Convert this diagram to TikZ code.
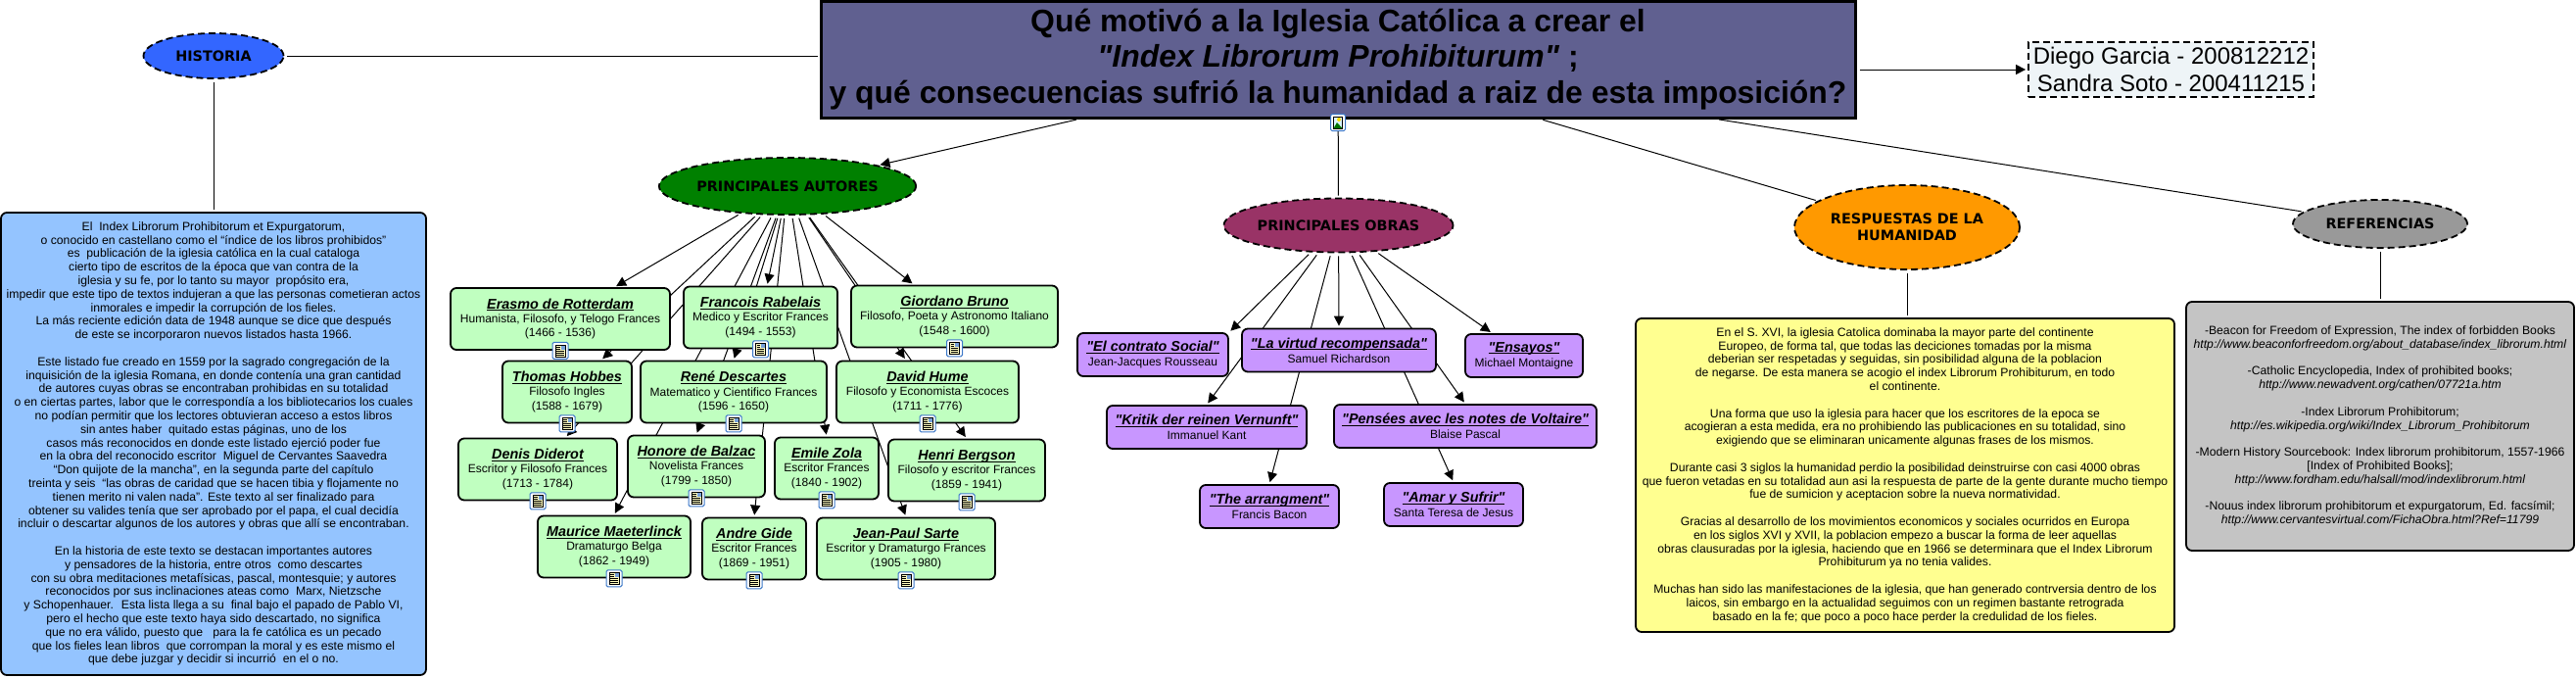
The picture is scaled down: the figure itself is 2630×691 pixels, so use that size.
\documentclass[tikz,border=0pt]{standalone}
\usepackage{fontspec}
\newfontfamily\arialfont{Liberation Sans}
\newfontfamily\temafont{DejaVu Sans}
\usetikzlibrary{arrows.meta, shapes.geometric, backgrounds, calc}
\definecolor{titlefill}{HTML}{606090}
\definecolor{histfill}{HTML}{94C4FF}
\definecolor{autorfill}{HTML}{C0FFC0}
\definecolor{obrafill}{HTML}{C896FF}
\definecolor{respfill}{HTML}{FFFF90}
\definecolor{reffill}{HTML}{C4C4C4}
\definecolor{namefill}{HTML}{EEF4F7}
\definecolor{iconblue}{HTML}{3C78C8}
\definecolor{temahist}{HTML}{3366FF}
\definecolor{temaaut}{HTML}{008000}
\definecolor{temaobra}{HTML}{993366}
\definecolor{temaresp}{HTML}{FF9900}
\definecolor{temaref}{HTML}{999999}
\newlength{\subrw}
\newcommand{\subr}[1]{\settowidth{\subrw}{#1}\rlap{\rule[-2.2pt]{\subrw}{1.1pt}}#1}
\newcommand{\docicon}[1]{%
  \node[iconbox] (#1ic) at (#1.south) {};
  \begin{scope}[shift={(#1ic.center)}]
    \draw[fill=yellow!25, line width=0.6pt] (-5,-6) rectangle (5,6);
    \fill[iconblue!70] (0.5,-5) rectangle (4.5,-1);
    \foreach \yy in {-4,-2,0,2,4} \draw[line width=0.7pt] (-3.8,\yy) -- (\ifnum\yy<0 -0.5\else 3.8\fi,\yy);
  \end{scope}}
\newcommand{\autor}[7]{%
  \node[autorbox, minimum width=#4pt] (#1) at (#2,#3) {{\titfont\subr{#5}}\\#6\\(#7)};
  \docicon{#1}}
\newcommand{\obra}[6]{%
  \node[obrabox, minimum width=#4pt] (#1) at (#2,#3) {{\titfont\subr{#5}}\\#6};}
\newcommand{\titfont}{\fontsize{14.4}{15}\selectfont\bfseries\itshape}
\begin{document}
\arialfont
\begin{tikzpicture}[
  x=1pt, y=-1pt, >={Stealth[inset=0pt,length=10pt,width=10pt]},
  rbox/.style={draw, line width=1.8pt, rounded corners=6pt, align=center, inner sep=0pt},
  autorbox/.style={rbox, fill=autorfill, minimum height=63pt, font=\fontsize{12}{14.4}\selectfont},
  obrabox/.style={rbox, fill=obrafill, minimum height=44pt, font=\fontsize{12}{15}\selectfont},
  textbox/.style={rbox, font=\fontsize{12.2}{13.8}\selectfont},
  tema/.style={ellipse, draw, dashed, dash pattern=on 7pt off 4pt, line width=1.8pt, inner sep=0pt, align=center,
    font=\temafont\bfseries\fontsize{14.4}{17.5}\selectfont},
  iconbox/.style={draw=iconblue, fill=white, line width=1pt, rounded corners=1.5pt, minimum width=16pt, minimum height=17pt, inner sep=0pt},
  conn/.style={line width=1pt, shorten <=3pt, shorten >=2pt},
  connar/.style={conn, ->}
  ]
  \useasboundingbox (0,0) rectangle (2630,691);
  % pregunta central
  \node[draw, line width=3pt, fill=titlefill, minimum width=1056pt, minimum height=119pt, inner sep=0pt, align=center,
    font=\fontsize{31.9}{36.5}\selectfont\bfseries] (title) at (1366,60.5)
    {Qué motivó a la Iglesia Católica a crear el\\ \textit{"Index Librorum Prohibiturum"} ;\\ y qué consecuencias sufrió la humanidad a raiz de esta imposición?};
  \node[iconbox, minimum width=15pt] (titleic) at ($(title.south)+(0,3.5)$) {};
  \begin{scope}[shift={(titleic.center)}]
    \draw[fill=cyan!15, line width=0.5pt] (-4.5,-6) rectangle (4.5,6);
    \fill[yellow!80!orange] (1,-3) circle (2pt);
    \fill[green!45!black] (-4.5,6) -- (-1,0) -- (4.5,6) -- cycle;
  \end{scope}
  \node[draw, dashed, dash pattern=on 7pt off 4pt, line width=1.8pt, fill=namefill, minimum width=291pt, minimum height=56pt, inner sep=0pt, align=center,
    font=\fontsize{24}{28}\selectfont] (names) at (2216.5,71) {Diego Garcia - 200812212\\Sandra Soto - 200411215};
  % temas
  \node[tema, fill=temahist, minimum width=143pt, minimum height=46pt] (historia) at (218,57) {HISTORIA};
  \node[tema, fill=temaaut, minimum width=246pt, minimum height=58pt] (autores) at (804,190) {PRINCIPALES AUTORES};
  \node[tema, fill=temaobra, minimum width=221pt, minimum height=55pt] (obras) at (1366.5,230) {PRINCIPALES OBRAS};
  \node[tema, fill=temaresp, minimum width=230pt, minimum height=86pt] (resp) at (1947,232) {RESPUESTAS DE LA\\HUMANIDAD};
  \node[tema, fill=temaref, minimum width=178pt, minimum height=49pt] (ref) at (2430,228.5) {REFERENCIAS};
  % historia
  \node[textbox, fill=histfill, minimum width=434pt, minimum height=472pt] (histtext) at (218,453) {%
    El~ Index Librorum Prohibitorum et Expurgatorum,\\
    o conocido en castellano como el “índice de los libros prohibidos”\\
    es~ publicación de la iglesia católica en la cual cataloga\\
    cierto tipo de escritos de la época que van contra de la\\
    iglesia y su fe, por lo tanto su mayor~ propósito era,\\
    impedir que este tipo de textos indujeran a que las personas cometieran actos\\
    inmorales e impedir la corrupción de los fieles.\\
    La más reciente edición data de 1948 aunque se dice que después\\
    de este se incorporaron nuevos listados hasta 1966.\\ \mbox{}\\
    Este listado fue creado en 1559 por la sagrado congregación de la\\
    inquisición de la iglesia Romana, en donde contenía una gran cantidad\\
    de autores cuyas obras se encontraban prohibidas en su totalidad\\
    o en ciertas partes, labor que le correspondía a los bibliotecarios los cuales\\
    no podían permitir que los lectores obtuvieran acceso a estos libros\\
    sin antes haber~ quitado estas páginas, uno de los\\
    casos más reconocidos en donde este listado ejerció poder fue\\
    en la obra del reconocido escritor~ Miguel de Cervantes Saavedra\\
    “Don quijote de la mancha”, en la segunda parte del capítulo\\
    treinta y seis~ “las obras de caridad que se hacen tibia y flojamente no\\
    tienen merito ni valen nada”. Este texto al ser finalizado para\\
    obtener su valides tenía que ser aprobado por el papa, el cual decidía\\
    incluir o descartar algunos de los autores y obras que allí se encontraban.\\ \mbox{}\\
    En la historia de este texto se destacan importantes autores\\
    y pensadores de la historia, entre otros~ como descartes\\
    con su obra meditaciones metafísicas, pascal, montesquie; y autores\\
    reconocidos por sus inclinaciones ateas como~ Marx, Nietzsche\\
    y Schopenhauer.~ Esta lista llega a su~ final bajo el papado de Pablo VI,\\
    pero el hecho que este texto haya sido descartado, no significa\\
    que no era válido, puesto que~~ para la fe católica es un pecado\\
    que los fieles lean libros~ que corrompan la moral y es este mismo el\\
    que debe juzgar y decidir si incurrió~ en el o no.};
  % autores
  \autor{erasmo}{572}{325.5}{224}{Erasmo de Rotterdam}{Humanista, Filosofo, y Telogo Frances}{1466 - 1536}
  \autor{rabelais}{776.5}{324}{157}{Francois Rabelais}{Medico y Escritor Frances}{1494 - 1553}
  \autor{bruno}{974.5}{323}{211}{Giordano Bruno}{Filosofo, Poeta y Astronomo Italiano}{1548 - 1600}
  \autor{hobbes}{579}{400}{132}{Thomas Hobbes}{Filosofo Ingles}{1588 - 1679}
  \autor{descartes}{749}{400}{190}{René Descartes}{Matematico y Cientifico Frances}{1596 - 1650}
  \autor{hume}{947}{400}{186}{David Hume}{Filosofo y Economista Escoces}{1711 - 1776}
  \autor{diderot}{549}{479}{162}{Denis Diderot}{Escritor y Filosofo Frances}{1713 - 1784}
  \autor{balzac}{711}{476}{140}{Honore de Balzac}{Novelista Frances}{1799 - 1850}
  \autor{zola}{844}{478}{106}{Emile Zola}{Escritor Frances}{1840 - 1902}
  \autor{bergson}{987}{480}{160}{Henri Bergson}{Filosofo y escritor Frances}{1859 - 1941}
  \autor{maeterlinck}{627}{558}{156}{Maurice Maeterlinck}{Dramaturgo Belga}{1862 - 1949}
  \autor{gide}{770}{560}{106}{Andre Gide}{Escritor Frances}{1869 - 1951}
  \autor{sarte}{925}{560}{182}{Jean-Paul Sarte}{Escritor y Dramaturgo Frances}{1905 - 1980}
  % obras
  \obra{contrato}{1177}{362}{154}{"El contrato Social"}{Jean-Jacques Rousseau}
  \obra{virtud}{1367}{357.5}{198}{"La virtud recompensada"}{Samuel Richardson}
  \obra{ensayos}{1556}{363}{120}{"Ensayos"}{Michael Montaigne}
  \obra{kritik}{1232}{436}{204}{"Kritik der reinen Vernunft"}{Immanuel Kant}
  \obra{pensees}{1496}{435}{268}{"Pensées avec les notes de Voltaire"}{Blaise Pascal}
  \obra{arrangment}{1296}{517}{142}{"The arrangment"}{Francis Bacon}
  \obra{amar}{1484}{515}{142}{"Amar y Sufrir"}{Santa Teresa de Jesus}
  % respuestas y referencias
  \node[textbox, fill=respfill, minimum width=550pt, minimum height=320pt] (resptext) at (1945,485) {%
    En el S. XVI, la iglesia Catolica dominaba la mayor parte del continente\\
    Europeo, de forma tal, que todas las deciciones tomadas por la misma\\
    deberian ser respetadas y seguidas, sin posibilidad alguna de la poblacion\\
    de negarse. De esta manera se acogio el index Librorum Prohibiturum, en todo\\
    el continente.\\ \mbox{}\\
    Una forma que uso la iglesia para hacer que los escritores de la epoca se\\
    acogieran a esta medida, era no prohibiendo las publicaciones en su totalidad, sino\\
    exigiendo que se eliminaran unicamente algunas frases de los mismos.\\ \mbox{}\\
    Durante casi 3 siglos la humanidad perdio la posibilidad deinstruirse con casi 4000 obras\\
    que fueron vetadas en su totalidad aun asi la respuesta de parte de la gente durante mucho tiempo\\
    fue de sumicion y aceptacion sobre la nueva normatividad.\\ \mbox{}\\
    Gracias al desarrollo de los movimientos economicos y sociales ocurridos en Europa\\
    en los siglos XVI y XVII, la poblacion empezo a buscar la forma de leer aquellas\\
    obras clausuradas por la iglesia, haciendo que en 1966 se determinara que el Index Librorum\\
    Prohibiturum ya no tenia valides.\\ \mbox{}\\
    Muchas han sido las manifestaciones de la iglesia, que han generado contrversia dentro de los\\
    laicos, sin embargo en la actualidad seguimos con un regimen bastante retrograda\\
    basado en la fe; que poco a poco hace perder la credulidad de los fieles.};
  \node[textbox, fill=reffill, minimum width=396pt, minimum height=254pt] (reftext) at (2430,435) {%
    -Beacon for Freedom of Expression, The index of forbidden Books\\
    \textit{http://www.beaconforfreedom.org/about\_database/index\_librorum.html}\\ \mbox{}\\
    -Catholic Encyclopedia, Index of prohibited books;\\
    \textit{http://www.newadvent.org/cathen/07721a.htm}\\ \mbox{}\\
    -Index Librorum Prohibitorum;\\
    \textit{http://es.wikipedia.org/wiki/Index\_Librorum\_Prohibitorum}\\ \mbox{}\\
    -Modern History Sourcebook: Index librorum prohibitorum, 1557-1966\\
    {[}Index of Prohibited Books{]};\\
    \textit{http://www.fordham.edu/halsall/mod/indexlibrorum.html}\\ \mbox{}\\
    -Nouus index librorum prohibitorum et expurgatorum, Ed. facsímil;\\
    \textit{http://www.cervantesvirtual.com/FichaObra.html?Ref=11799}};
  % conectores
  \begin{scope}[on background layer]
    \draw[conn] (historia) -- (title.west |- historia);
    \draw[conn] (historia) -- (histtext.north -| historia);
    \draw[connar] (title) -- (autores);
    \draw[conn] (title) -- (obras);
    \draw[conn] (title) -- (resp);
    \draw[conn] (title) -- (ref);
    \draw[connar] (title.east |- names.west) -- (names.west);
    \draw[conn] (resp) -- (resptext.north -| resp);
    \draw[conn] (ref) -- (reftext.north -| ref);
    \foreach \dest in {erasmo, rabelais, bruno, hobbes, hume, diderot}
      \draw[connar] (autores) -- (\dest);
    \foreach \dest in {descartes, zola, balzac, maeterlinck, gide, sarte, bergson}
      \draw[connar] (autores) -- (\dest.north);
    \foreach \dest in {virtud, kritik, pensees, arrangment, amar}
      \draw[connar] (obras) -- (\dest.north);
    \draw[connar] (obras) -- (ensayos);
    \draw[connar] (obras) -- (contrato.north east);
  \end{scope}
\end{tikzpicture}
\end{document}
